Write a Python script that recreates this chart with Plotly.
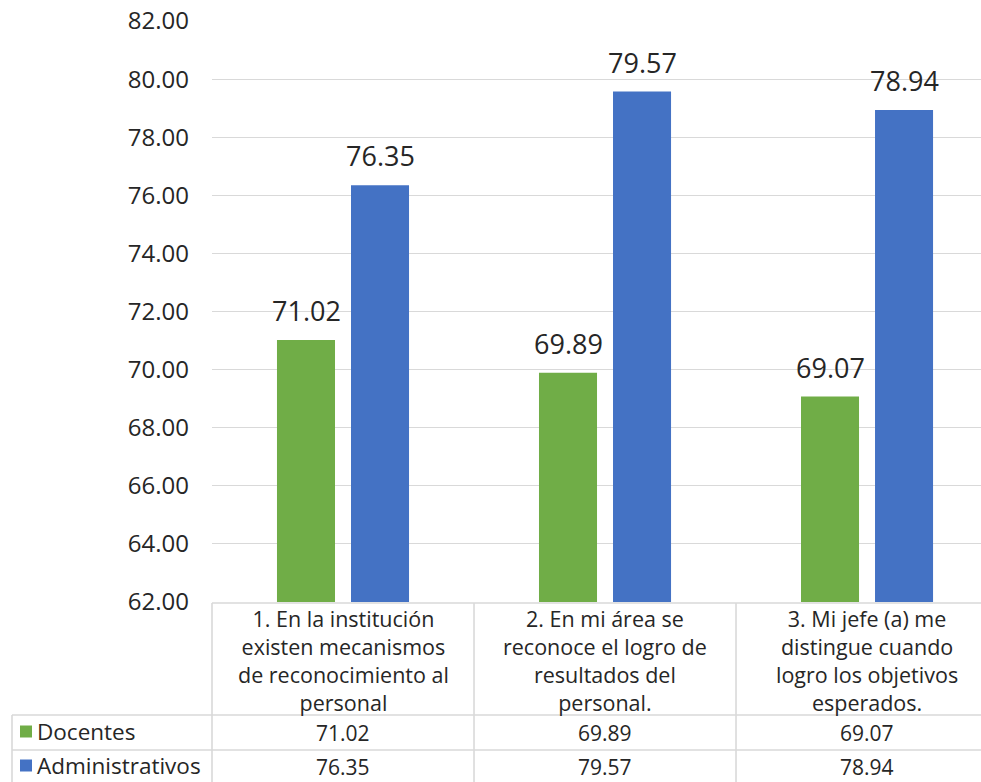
import plotly.graph_objects as go

# Survey items, series and values
categorias = [
    "1. En la institución<br>existen mecanismos<br>de reconocimiento al<br>personal",
    "2. En mi área se<br>reconoce el logro de<br>resultados del<br>personal.",
    "3. Mi jefe (a) me<br>distingue cuando<br>logro los objetivos<br>esperados.",
]
series = ["Docentes", "Administrativos"]
docentes = [71.02, 69.89, 69.07]
administrativos = [76.35, 79.57, 78.94]
colores = ["#70AD47", "#4472C4"]

# Page geometry (pixels)
W, H = 981, 782
LEFT, TOP, BOTTOM = 212, 21, 602
X_RANGE = [-0.5, 2.435]
BARGAP, GROUPGAP = 0.435, 0.216
GRID = "#d9d9d9"
TXT = "#262626"
FONT = "Open Sans"

def px(p):
    return (p - LEFT) / (W - LEFT)

def py(p):
    return (BOTTOM - p) / (BOTTOM - TOP)

def xdata_to_paper(x):
    return (x - X_RANGE[0]) / (X_RANGE[1] - X_RANGE[0])

idx = list(range(len(categorias)))
valores = [docentes, administrativos]

fig = go.Figure()
for nombre, vals, col in zip(series, valores, colores):
    fig.add_trace(go.Bar(x=idx, y=vals, name=nombre, marker=dict(color=col, line=dict(width=0)),
                         showlegend=False, hoverinfo="y"))

annotations = []
shapes = []

# Value labels above the bars
half_slot = (1 - BARGAP) / 4
for k, vals in enumerate(valores):
    off = -half_slot if k == 0 else half_slot
    for i, v in enumerate(vals):
        annotations.append(dict(x=i + off, y=v, xref="x", yref="y", text=f"{v:.2f}",
                                showarrow=False, yanchor="bottom", yshift=9,
                                font=dict(family=FONT, size=27, color=TXT)))

# Data table: header with item text and value rows
row_header = (603, 715)
row_doc = (715, 750)
row_adm = (750, 783)
for i, cat in enumerate(categorias):
    annotations.append(dict(x=i, y=py(sum(row_header) / 2 + 1), xref="x", yref="paper",
                            text=cat, showarrow=False, yanchor="middle", xanchor="center",
                            font=dict(family=FONT, size=21.5, color=TXT)))
    for vals, row in ((docentes, row_doc), (administrativos, row_adm)):
        annotations.append(dict(x=i, y=py(sum(row) / 2), xref="x", yref="paper",
                                text=f"{vals[i]:.2f}", showarrow=False,
                                yanchor="middle", xanchor="center",
                                font=dict(family=FONT, size=21, color=TXT)))

# Row labels with colour keys
for nombre, col, row in ((series[0], colores[0], row_doc), (series[1], colores[1], row_adm)):
    cy = sum(row) / 2 - 1
    shapes.append(dict(type="rect", xref="paper", yref="paper",
                       x0=px(20), x1=px(32), y0=py(cy - 6), y1=py(cy + 6),
                       fillcolor=col, line=dict(width=0)))
    annotations.append(dict(x=px(35), y=py(cy), xref="paper", yref="paper", text=nombre,
                            showarrow=False, xanchor="left", yanchor="middle",
                            font=dict(family=FONT, size=22.5, color=TXT)))

# Table borders
lw = 1.6
def hline(x0, x1, y):
    shapes.append(dict(type="line", xref="paper", yref="paper", x0=px(x0), x1=px(x1),
                       y0=py(y), y1=py(y), line=dict(color=GRID, width=lw)))

def vline(xp, y0, y1):
    shapes.append(dict(type="line", xref="paper", yref="paper", x0=xp, x1=xp,
                       y0=py(y0), y1=py(y1), line=dict(color=GRID, width=lw)))

hline(LEFT, W, 603)
hline(12, W, 715)
hline(12, W, 750)
vline(0, 603, 790)
vline(px(12), 715, 790)
for b in (0.5, 1.5):
    vline(xdata_to_paper(b), 603, 790)

fig.update_layout(
    width=W, height=H,
    margin=dict(l=LEFT, r=0, t=TOP, b=H - BOTTOM),
    paper_bgcolor="white", plot_bgcolor="rgba(0,0,0,0)",
    barmode="group", bargap=BARGAP, bargroupgap=GROUPGAP,
    font=dict(family=FONT, color=TXT),
    xaxis=dict(range=X_RANGE, showticklabels=False, showgrid=False, zeroline=False,
               showline=False, fixedrange=True),
    yaxis=dict(range=[62, 82], dtick=2, tick0=62, tickformat=".2f", showgrid=True,
               gridcolor=GRID, gridwidth=1.3, zeroline=False, showline=False,
               ticks="", ticklabelstandoff=22, tickfont=dict(family=FONT, size=24, color=TXT)),
    annotations=annotations,
    shapes=shapes,
)

fig.write_html("out.html")
